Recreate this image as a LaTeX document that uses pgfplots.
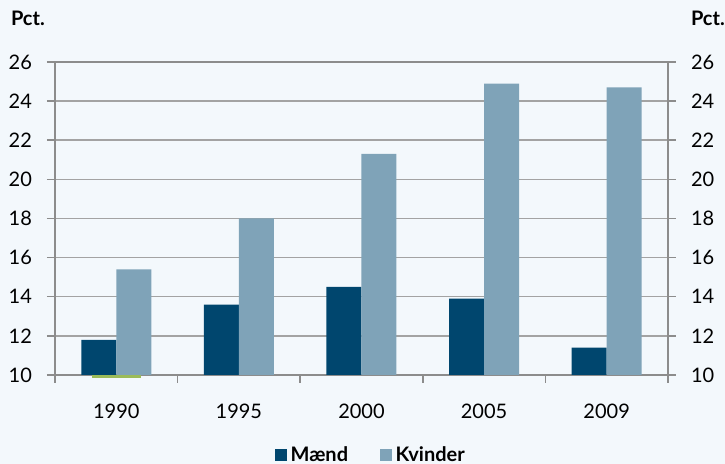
\documentclass[border=0pt]{standalone}
\usepackage{fontspec}
\setmainfont{Lato}
\usepackage{pgfplots}
\pgfplotsset{compat=1.18}
\definecolor{bg}{HTML}{F3F8FC}
\definecolor{maend}{HTML}{00466E}
\definecolor{kvinder}{HTML}{7FA3B8}
\definecolor{gridc}{HTML}{A3A3A3}
\definecolor{axc}{HTML}{8C8C8C}
\definecolor{grn}{HTML}{9BBB59}
\begin{document}
\fontsize{10}{12}\selectfont
\begin{tikzpicture}
\useasboundingbox (0,0) rectangle (362.5pt,232pt);
\fill[bg] (0,0) rectangle (362.5pt,232pt);
\pgfplotsset{common/.style={
  at={(27.5pt,44.5pt)}, anchor=south west, scale only axis,
  width=306.5pt, height=156.5pt,
  xmin=-0.5, xmax=4.5, ymin=10, ymax=26,
  ytick={10,12,...,26},
  /pgf/number format/assume math mode=true,
  tick label style={font=\fontsize{10}{12}\selectfont, text=black},
  axis line style={axc, line width=0.75pt},
  major tick length=4pt,
  tick style={axc, line width=0.75pt},
  tick align=outside,
}}
\begin{axis}[common,
  ybar=0pt, bar width=17.5pt,
  xtick={-0.5,0.5,...,4.5}, xticklabel=\empty,
  extra x ticks={0,1,2,3,4},
  extra x tick labels={1990,1995,2000,2005,2009},
  extra x tick style={tick style={draw=none}, xticklabel style={yshift=-7pt}},
  ytick pos=left, xtick pos=bottom,
  ymajorgrids, grid style={gridc, line width=0.75pt},
  yticklabel style={xshift=-4pt},
  legend style={at={(0.517,-0.256)}, anchor=center, draw=none, fill=none,
    legend columns=2, font=\bfseries\fontsize{10}{12}\selectfont,
    /tikz/every even column/.append style={column sep=14pt}},
  legend image code/.code={\fill[#1] (0pt,-2.9pt) rectangle (5.8pt,2.9pt);},
]
\addplot[fill=maend, draw=none] coordinates {(0,11.8) (1,13.6) (2,14.5) (3,13.9) (4,11.4)};
\addplot[fill=kvinder, draw=none] coordinates {(0,15.4) (1,18.0) (2,21.3) (3,24.9) (4,24.7)};
\legend{Mænd, Kvinder}
\end{axis}
\begin{axis}[common, clip=false,
  hide x axis, axis y line*=right,
  yticklabel style={xshift=4pt},
]
\addplot[grn, line width=1.5pt, no markers] coordinates {(-0.196,9.92) (0.204,9.92)};
\end{axis}
\node[anchor=west, font=\bfseries\fontsize{10}{12}\selectfont] at (2pt,223pt) {Pct.};
\node[anchor=west, font=\bfseries\fontsize{10}{12}\selectfont] at (342pt,223pt) {Pct.};
\end{tikzpicture}
\end{document}
